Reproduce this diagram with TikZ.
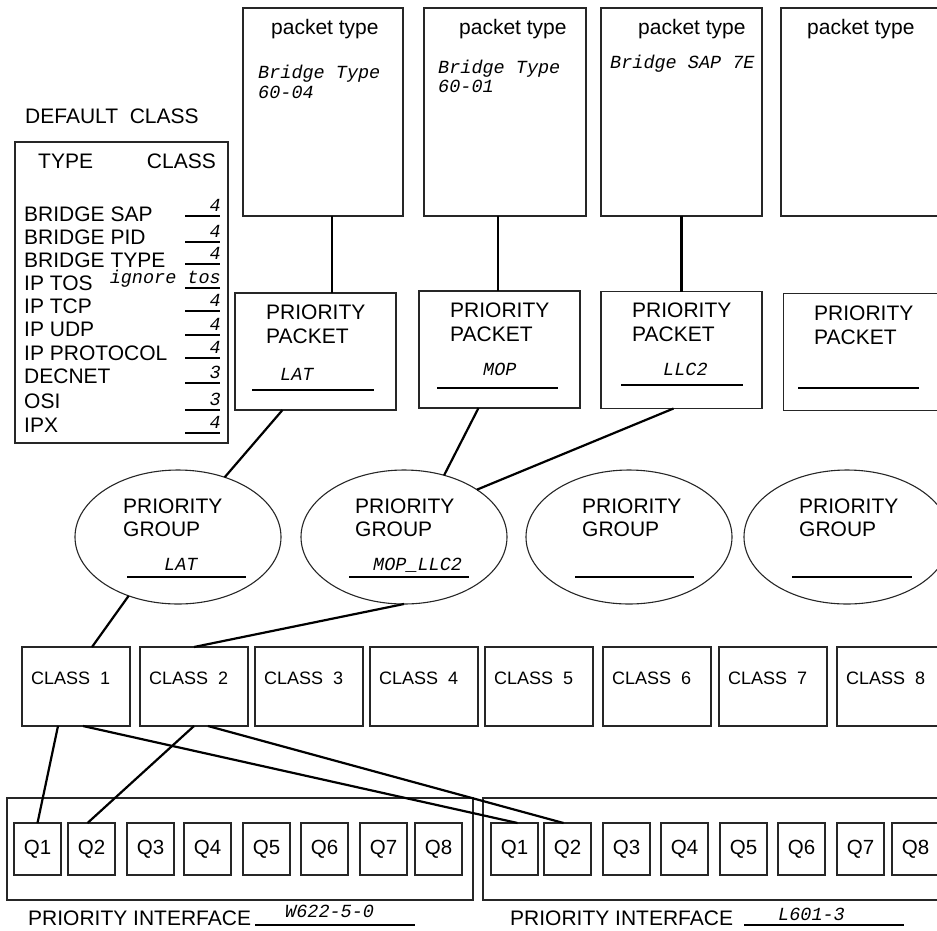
\documentclass[tikz,border=0pt]{standalone}
\usepackage{fontspec}
\setmainfont{Liberation Sans}
\newfontfamily\codefont{Liberation Mono}
\usetikzlibrary{shapes.geometric}

\tikzset{
  box/.style={draw=black!85, line width=1.1pt, inner sep=0, outer sep=0},
  grp/.style={draw=black!85, ellipse, line width=1.1pt, minimum width=206, minimum height=134, inner sep=0, outer sep=0},
  link/.style={line width=2.2pt},
  uline/.style={line width=2.6pt},
  lbl/.style={font=\fontsize{21}{24}\selectfont, inner sep=0, anchor=base west},
  code/.style={font=\fontsize{18.5}{20}\selectfont\codefont\itshape, inner sep=0, anchor=base west},
}

\begin{document}
\begin{tikzpicture}[x=1pt,y=-1pt]
\useasboundingbox (0,0) rectangle (937,930);

% default class table
\node[lbl] at (25,123) {DEFAULT\ \ CLASS};
\node[box, minimum width=213, minimum height=301] (dflt) at (121.5,292.5) {};
\node[lbl] at (38,168) {TYPE};
\node[lbl, anchor=base east] at (216,168) {CLASS};
\foreach \t/\b/\v/\u in {BRIDGE SAP/221/4/216, BRIDGE PID/244/4/242,
    BRIDGE TYPE/267/4/264, IP TOS/290/ignore tos/288, IP TCP/313/4/311,
    IP UDP/336/4/335, IP PROTOCOL/360/4/358, DECNET/383/3/383,
    OSI/408/3/410, IPX/432/4/433}{
  \node[lbl] at (24,\b) {\t};
  \draw[uline] (185,\u) -- (220,\u);
  \node[code, anchor=base east] at (221,\u-5) {\v};
}

% packet types
\foreach \n/\c/\w/\tx in {pk1/323/160/271, pk2/505/162/459, pk3/681.5/161/638, pk4/863/164/807}{
  \node[box, minimum width=\w, minimum height=208] (\n) at (\c,112) {};
  \node[lbl] at (\tx,34) {packet type};
}
\node[code] at (258,78) {Bridge Type};
\node[code] at (258,98) {60-04};
\node[code] at (438,73) {Bridge Type};
\node[code] at (438,92) {60-01};
\node[code] at (610,68) {Bridge SAP 7E};

% priority packets
\foreach \n/\c/\y/\tx/\ty in {pp1/315.5/351.5/266/319, pp2/499.5/349.5/450/317,
    pp3/681.5/350/632/317, pp4/864/352/814/320}{
  \node[box, minimum width=161, minimum height=117] (\n) at (\c,\y) {};
  \node[lbl] at (\tx,\ty) {PRIORITY};
  \node[lbl] at (\tx,\ty+24) {PACKET};
}
\draw[uline] (252,390) -- (374,390); \node[code] at (280,380) {LAT};
\draw[uline] (437,388) -- (558,388); \node[code] at (483,375) {MOP};
\draw[uline] (621,385) -- (743,385); \node[code] at (663,375) {LLC2};
\draw[uline] (798,388) -- (919,388);

\draw[link] ([xshift=9]pk1.south) -- ([xshift=16.5]pp1.north);
\draw[link] ([xshift=-7]pk2.south) -- ([xshift=-1.5]pp2.north);
\draw[link] (pk3.south) -- (pp3.north);

% priority groups
\foreach \n/\c/\tx in {e1/178/123, e2/404/355, e3/629/582, e4/847/799}{
  \node[grp] (\n) at (\c,537) {};
  \node[lbl] at (\tx,513) {PRIORITY};
  \node[lbl] at (\tx,536) {GROUP};
}
\draw[uline] (127,577) -- (246,577); \node[code] at (164,570) {LAT};
\draw[uline] (349,577) -- (469,577); \node[code] at (373,570) {MOP\_LLC2};
\draw[uline] (575,577) -- (694,577);
\draw[uline] (792,577) -- (912,577);

\draw[link] ([xshift=-33]pp1.south) -- (e1.52);
\draw[link] ([xshift=-21]pp2.south) -- (e2.57);
\draw[link] ([xshift=-8]pp3.south) -- (e2.33);

% classes
\foreach \l [count=\i] in {22,140,255,370,485,603,719,837}{
  \node[box, minimum width=108, minimum height=79] (c\i) at (\l+54,686.5) {};
  \node[lbl, font=\fontsize{18}{20}\selectfont] at (\l+9,684) {CLASS\ \ \i};
}
\draw[link] (e1.230) -- ([xshift=16]c1.north);
\draw[link] (e2.south) -- (c2.north);

% interfaces and queues
\node[box, minimum width=466, minimum height=102] (if1) at (240,849) {};
\node[box, minimum width=462, minimum height=102] (if2) at (714,849) {};
\foreach \l [count=\i] in {14,68,127,184,243,301,360,415}
  \node[box, minimum width=47, minimum height=52, font=\fontsize{20.5}{24}\selectfont] (qa\i) at (\l+23.5,849) {Q\i};
\foreach \l [count=\i] in {491,544,603,661,720,778,837,892}
  \node[box, minimum width=47, minimum height=52, font=\fontsize{20.5}{24}\selectfont] (qb\i) at (\l+23.5,849) {Q\i};

\draw[link] ([xshift=-18]c1.south) -- (qa1.north);
\draw[link] (c2.south) -- ([xshift=-4]qa2.north);
\draw[link] ([xshift=7]c1.south) -- ([xshift=3]qb1.north);
\draw[link] ([xshift=14]c2.south) -- ([xshift=-4]qb2.north);

\node[lbl] at (28,925) {PRIORITY INTERFACE};
\draw[uline] (255,925) -- (415,925);
\node[code] at (285,917) {W622-5-0};
\node[lbl] at (510,925) {PRIORITY INTERFACE};
\draw[uline] (744,925) -- (904,925);
\node[code] at (778,920) {L601-3};
\end{tikzpicture}
\end{document}
